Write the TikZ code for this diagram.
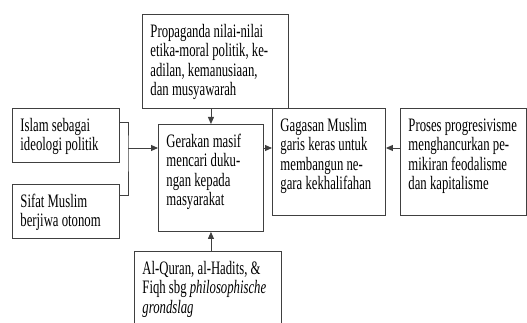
\documentclass[tikz,border=0pt]{standalone}
\usepackage{fontspec}
\setmainfont[FakeStretch=0.67]{Liberation Serif}
\usetikzlibrary{arrows.meta}
% text of a box, top aligned: width, height, lines
\newcommand{\boxtxt}[3]{\parbox[c][#2pt][t]{#1pt}{\raggedright\strut #3}}

\begin{document}
\begin{tikzpicture}[x=1pt,y=-1pt,
    box/.style={draw=black!75, line width=.9pt, inner xsep=8pt, inner ysep=9pt, anchor=north west,
      font=\fontsize{19}{19.5}\selectfont},
    line/.style={draw=black!75, line width=.9pt},
    arr/.style={line, -{Triangle[length=7pt,width=6pt]}}]
  \useasboundingbox (0,0) rectangle (527,323);
  \clip (0,0) rectangle (527,323);

  \node[box] (prop) at (142,14) {\boxtxt{130}{76}{Propaganda nilai-nilai\\etika-moral politik, ke-\\adilan, kemanusiaan,\\dan musyawarah}};
  \node[box] (islam) at (12,108) {\boxtxt{91}{36}{Islam sebagai\\ideologi politik}};
  \node[box] (sifat) at (12,184) {\boxtxt{91}{36}{Sifat Muslim\\berjiwa otonom}};
  \node[box] (gerakan) at (158,124) {\boxtxt{89}{89}{Gerakan masif\\mencari duku-\\ngan kepada\\masyarakat}};
  \node[box] (gagasan) at (272,108) {\boxtxt{97}{89}{Gagasan Muslim\\garis keras untuk\\membangun ne-\\gara kekhalifahan}};
  \node[box] (proses) at (400,108) {\boxtxt{110}{89}{Proses progresivisme\\menghancurkan pe-\\mikiran feodalisme\\dan kapitalisme}};
  \node[box] (quran) at (134,251) {\boxtxt{131}{72}{Al-Quran, al-Hadits, \&\\Fiqh sbg \textit{philosophische}\\\textit{grondslag}}};

  % connectors
  \coordinate (join) at (128,148);
  \draw[line] ([yshift=13pt]islam.east) -| (join) |- ([yshift=16pt]sifat.east);
  \draw[arr] (join) -- (join -| gerakan.west);
  \draw[arr] (prop.south -| gerakan.north) -- (gerakan.north);
  \draw[arr] (quran.north -| gerakan.south) -- (gerakan.south);
  \draw[arr] (join -| gerakan.east) -- (join -| gagasan.west);
  \draw[arr] (join -| proses.west) -- (join -| gagasan.east);
\end{tikzpicture}
\end{document}
